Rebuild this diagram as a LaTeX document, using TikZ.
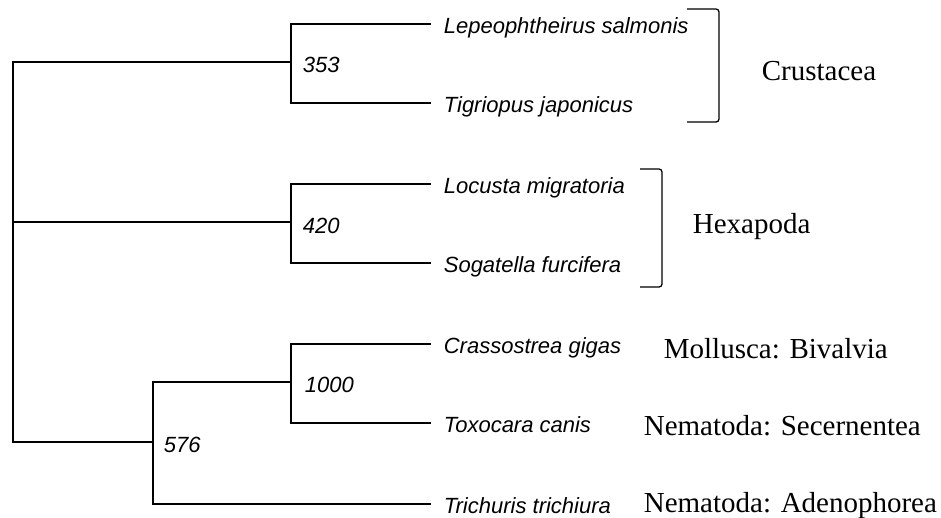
\documentclass[tikz,border=0pt]{standalone}
\usepackage{fontspec}
\setmainfont{Liberation Serif}
\setsansfont{Liberation Sans}
\usepackage{tikz}

\begin{document}
\begin{tikzpicture}[x=1pt, y=-1pt, line width=1.7pt,
    every node/.style={inner sep=0pt},
    soort/.style={anchor=base west, font=\fontsize{22}{26}\selectfont\sffamily\itshape},
    steun/.style={anchor=base west, font=\fontsize{22}{26}\selectfont\sffamily\itshape},
    groep/.style={anchor=base west, font=\fontsize{29}{34}\selectfont\rmfamily},
    haak/.style={line width=1.3pt, rounded corners=3pt}]
    \useasboundingbox (0,0) rectangle (941,517);
    % knopen van de boom
    \coordinate (wortel) at (13,222);
    \coordinate (k353) at (291,62);
    \coordinate (k420) at (291,222);
    \coordinate (k576) at (153,442);
    \coordinate (k1000) at (291,382);
    % uiteinden van de takken
    \foreach \naam/\y in {lep/24, tig/103, loc/184, sog/263, cra/344, tox/423, tri/504}
    \coordinate (t\naam) at (431,\y);
    % takken
    \draw (wortel) |- (k353);
    \draw (wortel) -- (k420);
    \draw (wortel) |- (k576);
    \draw (k576) |- (k1000);
    \draw (k576) |- (ttri);
    \foreach \k/\a/\b in {k353/lep/tig, k420/loc/sog, k1000/cra/tox} {
        \draw (\k) |- (t\a);
        \draw (\k) |- (t\b);
    }
    % soortnamen
    \foreach \naam/\tekst in {lep/Lepeophtheirus salmonis, tig/Tigriopus japonicus,
        loc/Locusta migratoria, sog/Sogatella furcifera, cra/Crassostrea gigas,
        tox/Toxocara canis, tri/Trichuris trichiura}
    \node[soort] (s\naam) at ([xshift=12pt, yshift=-9.5pt]t\naam) {\tekst};
    % bootstrapwaarden
    \node[steun] (b353) at (302,72) {353};
    \node[steun] (b420) at (302,233) {420};
    \node[steun] (b1000) at (304,392) {1000};
    \node[steun] (b576) at (163,452) {576};
    % groepen
    \draw[haak] (687,9) -- (719,9) -- (719,122) -- (687,122);
    \draw[haak] (640,169) -- (662,169) -- (662,287) -- (640,287);
    \node[groep] (crus) at (761,80) {Crustacea};
    \node[groep] (hexa) at (692,233) {Hexapoda};
    \node[groep] (moll) at (663,358) {Mollusca: Bivalvia};
    \node[groep] (seco) at (643,435) {Nematoda: Secernentea};
    \node[groep] (aden) at (643,512) {Nematoda: Adenophorea};
\end{tikzpicture}
\end{document}
